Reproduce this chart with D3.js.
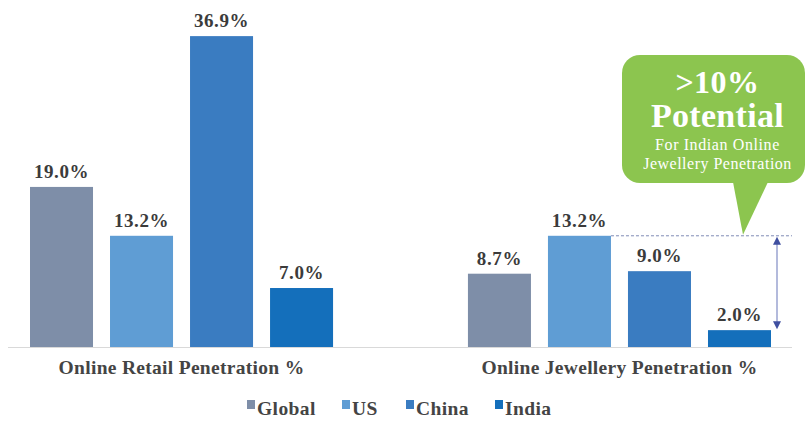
<!DOCTYPE html>
<html>
<head>
<meta charset="utf-8">
<script src="https://cdn.jsdelivr.net/npm/d3@7"></script>
<style>
  body { margin: 0; background: #fff; }
  svg { display: block; }
  .val { font-family: "Liberation Serif", serif; font-weight: bold; fill: #3b3b3b; letter-spacing: 0.6px; }
  .cat { font-family: "Liberation Serif", serif; font-weight: bold; fill: #444; letter-spacing: 0.3px; }
  .leg { font-family: "Liberation Serif", serif; font-weight: bold; fill: #444; letter-spacing: 0.4px; }
</style>
</head>
<body>
<div id="chart"></div>
<script>
const categories = ['Online Retail Penetration %', 'Online Jewellery Penetration %'];
const series = ['Global', 'US', 'China', 'India'];
const retailValues = [19.0, 13.2, 36.9, 7.0];
const jewelleryValues = [8.7, 13.2, 9.0, 2.0];
const colors = ['#7e8ea8', '#5f9dd4', '#3a7cc1', '#146fbb'];
const calloutLines = ['>10%', 'Potential', 'For Indian Online', 'Jewellery Penetration'];

const width = 806, height = 421;
const baseY = 347;

const data = categories.map((c, i) => ({
  category: c,
  values: (i === 0 ? retailValues : jewelleryValues).map((v, j) => ({ key: series[j], value: v }))
}));

const svg = d3.select('#chart').append('svg')
  .attr('width', width)
  .attr('height', height);

// scales
const x0 = d3.scaleBand()
  .domain(categories)
  .range([30, 771])
  .paddingInner(0.308);

const x1 = d3.scaleBand()
  .domain(series)
  .range([0, x0.bandwidth()])
  .paddingInner(0.2125);

const y = d3.scaleLinear()
  .domain([0, 40])
  .range([baseY, 10]);

const color = d3.scaleOrdinal().domain(series).range(colors);

// baseline
svg.append('line')
  .attr('x1', 8).attr('x2', 792)
  .attr('y1', baseY + 0.5).attr('y2', baseY + 0.5)
  .attr('stroke', '#d9d9d9')
  .attr('stroke-width', 1);

const groups = svg.selectAll('.group')
  .data(data)
  .enter().append('g')
  .attr('class', 'group')
  .attr('transform', d => 'translate(' + x0(d.category) + ',0)');

groups.selectAll('rect')
  .data(d => d.values)
  .enter().append('rect')
  .attr('x', d => x1(d.key))
  .attr('y', d => y(d.value))
  .attr('width', x1.bandwidth())
  .attr('height', d => baseY - y(d.value))
  .attr('fill', d => color(d.key));

groups.selectAll('.val')
  .data(d => d.values)
  .enter().append('text')
  .attr('class', 'val')
  .attr('x', d => x1(d.key) + x1.bandwidth() / 2)
  .attr('y', d => y(d.value) - 9)
  .attr('text-anchor', 'middle')
  .attr('font-size', 19)
  .text(d => d.value.toFixed(1) + '%');

// category labels
svg.selectAll('.cat')
  .data(categories)
  .enter().append('text')
  .attr('class', 'cat')
  .attr('x', d => x0(d) + x0.bandwidth() / 2)
  .attr('y', 374)
  .attr('text-anchor', 'middle')
  .attr('font-size', 19.5)
  .text(d => d);

// legend
const legendX = [247, 342, 406, 495];
const legend = svg.selectAll('.legend')
  .data(series)
  .enter().append('g')
  .attr('class', 'legend')
  .attr('transform', (d, i) => 'translate(' + legendX[i] + ',409)');

legend.append('rect')
  .attr('x', 0).attr('y', -9)
  .attr('width', 8).attr('height', 9)
  .attr('fill', d => color(d));

legend.append('text')
  .attr('class', 'leg')
  .attr('x', 10)
  .attr('y', 6)
  .attr('font-size', 19.5)
  .text(d => d);

// dashed reference line from the US jewellery bar
const jx = x0(categories[1]);
const usTop = y(jewelleryValues[1]);
const indiaTop = y(jewelleryValues[3]);
svg.append('line')
  .attr('x1', jx + x1('US') + x1.bandwidth()).attr('x2', 792)
  .attr('y1', usTop).attr('y2', usTop)
  .attr('stroke', '#7f8bb5')
  .attr('stroke-width', 1)
  .attr('stroke-dasharray', '3,2');

// double arrow
const arrowX = 777;
svg.append('line')
  .attr('x1', arrowX).attr('x2', arrowX)
  .attr('y1', usTop + 6).attr('y2', indiaTop - 6)
  .attr('stroke', '#9aa3d0')
  .attr('stroke-width', 1.5);
svg.append('path')
  .attr('d', 'M' + arrowX + ',' + (usTop + 1) + 'l-4,8h8z')
  .attr('fill', '#3f4fa0');
svg.append('path')
  .attr('d', 'M' + arrowX + ',' + (indiaTop - 1) + 'l-4,-8h8z')
  .attr('fill', '#3f4fa0');

// callout bubble
const bubble = { x: 622, y: 55, w: 183, h: 128, r: 18 };
svg.append('rect')
  .attr('x', bubble.x).attr('y', bubble.y)
  .attr('width', bubble.w).attr('height', bubble.h)
  .attr('rx', bubble.r)
  .attr('fill', '#8cc54f');
svg.append('path')
  .attr('d', 'M733,' + (bubble.y + bubble.h - 1) + 'L743,' + (usTop - 1) + 'L768,' + (bubble.y + bubble.h - 1) + 'Z')
  .attr('fill', '#8cc54f');

const cx = bubble.x + bubble.w / 2 + 4;
const calloutStyle = [
  { y: 93, size: 32, weight: 'bold', spacing: 0.5 },
  { y: 127, size: 34, weight: 'bold', spacing: 0.3 },
  { y: 150, size: 16, weight: 'normal', spacing: 0.6 },
  { y: 169, size: 16, weight: 'normal', spacing: 0.5 }
];
svg.selectAll('.callout')
  .data(calloutLines)
  .enter().append('text')
  .attr('class', 'callout')
  .attr('x', cx)
  .attr('y', (d, i) => calloutStyle[i].y)
  .attr('text-anchor', 'middle')
  .attr('font-family', '"Liberation Serif", serif')
  .attr('font-size', (d, i) => calloutStyle[i].size)
  .attr('font-weight', (d, i) => calloutStyle[i].weight)
  .attr('letter-spacing', (d, i) => calloutStyle[i].spacing)
  .attr('fill', '#fff')
  .text(d => d);
</script>
</body>
</html>
